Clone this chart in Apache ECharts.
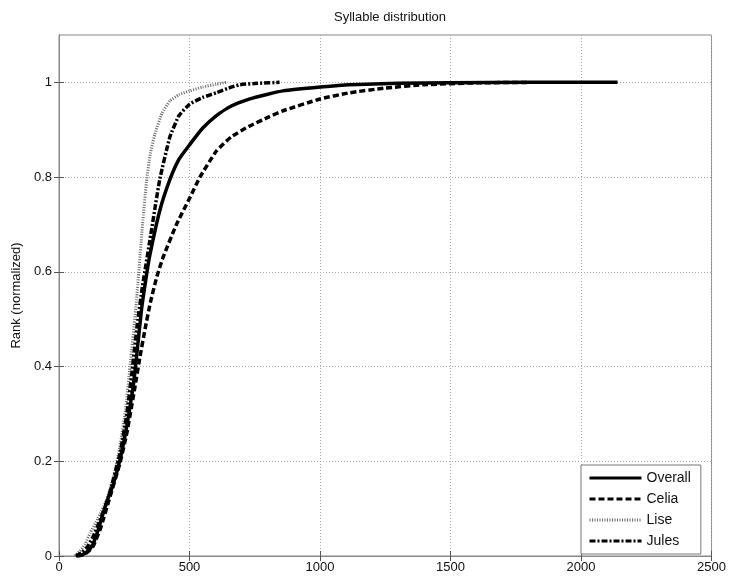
<!DOCTYPE html>
<html><head><meta charset="utf-8">
<script src="https://cdn.jsdelivr.net/npm/echarts@6/dist/echarts.min.js"></script>
<style>html,body{margin:0;padding:0;background:#fff}#c{width:729px;height:577px}</style>
</head><body><div id="c"></div>
<script>
const titleText = 'Syllable distribution';
const yAxisName = 'Rank (normalized)';
const seriesNames = ['Overall', 'Celia', 'Lise', 'Jules'];
const xTicks = [0, 500, 1000, 1500, 2000, 2500];
const yTicks = [0, 0.2, 0.4, 0.6, 0.8, 1];

const overall = [[65,0],[90,0.003],[110,0.01],[130,0.025],[150,0.055],[169,0.09],[190,0.125],[207,0.15],[233,0.202],[259,0.272],[284,0.357],[297,0.42],[316,0.52],[333,0.585],[348,0.635],[386,0.729],[425,0.795],[460,0.838],[500,0.868],[550,0.903],[603,0.93],[660,0.95],[731,0.965],[800,0.975],[858,0.982],[1001,0.99],[1113,0.995],[1300,0.998],[1500,0.999],[1800,1],[2140,1]];
const celia = [[70,0],[100,0.004],[130,0.02],[160,0.06],[190,0.115],[233,0.195],[260,0.26],[291,0.357],[310,0.42],[330,0.48],[350,0.535],[375,0.59],[399,0.631],[450,0.7],[500,0.755],[540,0.8],[603,0.855],[660,0.885],[731,0.908],[800,0.926],[858,0.94],[1001,0.965],[1113,0.978],[1250,0.988],[1400,0.995],[1600,0.999],[1800,1]];
const lise = [[60,0],[80,0.01],[100,0.025],[119,0.048],[150,0.08],[182,0.118],[210,0.17],[233,0.23],[255,0.31],[272,0.4],[297,0.54],[320,0.7],[335,0.79],[350,0.85],[367,0.89],[395,0.935],[425,0.961],[460,0.974],[501,0.982],[550,0.99],[603,0.996],[640,1]];
const jules = [[65,0],[90,0.008],[110,0.02],[130,0.04],[160,0.08],[190,0.125],[233,0.215],[260,0.3],[280,0.39],[300,0.49],[320,0.57],[348,0.666],[386,0.795],[425,0.885],[460,0.93],[501,0.954],[550,0.968],[603,0.978],[650,0.988],[692,0.995],[760,0.998],[845,1]];

const FONT = 'Liberation Sans';
const chart = echarts.init(document.getElementById('c'), null, {renderer: 'canvas'});
const lbl = {color: '#111', fontFamily: FONT, fontSize: 13};
const tick = {show: true, inside: true, length: 5, lineStyle: {color: '#555'}};
const mk = (name, data, color, width, type, z) => ({
  name, type: 'line', data, symbol: 'none', z, smooth: 0.15,
  lineStyle: {color, width, type}, itemStyle: {color}
});
chart.setOption({
  backgroundColor: '#fff',
  animation: false,
  title: {text: titleText, left: 385, textAlign: 'center', top: 6,
    textStyle: {fontFamily: FONT, fontSize: 13, fontWeight: 'normal', color: '#111'}},
  grid: {left: 59, right: 17, top: 35, bottom: 21, show: true, borderColor: '#888', borderWidth: 1, backgroundColor: '#fff'},
  legend: {
    orient: 'vertical', left: 581, top: 465,
    backgroundColor: '#fff', borderColor: '#777', borderWidth: 1,
    padding: [6, 10, 6, 7], itemGap: 7, itemWidth: 52, itemHeight: 14,
    itemStyle: {opacity: 0},
    lineStyle: {width: 3},
    textStyle: {fontFamily: FONT, fontSize: 14, color: '#111'},
    data: seriesNames
  },
  xAxis: [{
    type: 'value', min: xTicks[0], max: xTicks[xTicks.length - 1], interval: 500,
    axisLine: {show: true, lineStyle: {color: '#888'}},
    axisTick: tick,
    axisLabel: Object.assign({margin: 5, formatter: v => String(v)}, lbl),
    splitLine: {show: true, lineStyle: {color: '#aaa', type: [1, 2], width: 1}}
  }, {
    type: 'value', position: 'top', min: 0, max: 2500, interval: 500,
    axisLine: {show: true, lineStyle: {color: '#888'}},
    axisTick: tick, axisLabel: {show: false}, splitLine: {show: false}
  }],
  yAxis: [{
    type: 'value', min: 0, max: 1.1, interval: 0.2,
    name: yAxisName, nameLocation: 'middle', nameGap: 34, nameRotate: 90,
    nameTextStyle: {fontFamily: FONT, fontSize: 13, color: '#111'},
    axisLine: {show: true, lineStyle: {color: '#888'}},
    axisTick: {show: true, inside: true, length: 5, lineStyle: {color: '#555'}, customValues: yTicks},
    axisLabel: Object.assign({margin: 7, customValues: yTicks, formatter: v => String(+v.toFixed(1))}, lbl),
    splitLine: {show: true, lineStyle: {color: '#aaa', type: [1, 2], width: 1}}
  }, {
    type: 'value', position: 'right', min: 0, max: 1.1, interval: 0.2,
    axisLine: {show: true, lineStyle: {color: '#888'}},
    axisTick: {show: true, inside: true, length: 5, lineStyle: {color: '#555'}, customValues: yTicks},
    axisLabel: {show: false}, splitLine: {show: false}
  }],
  series: [
    mk(seriesNames[0], overall, '#000', 3.5, 'solid', 4),
    mk(seriesNames[1], celia, '#000', 3.5, [6, 3], 3),
    mk(seriesNames[2], lise, '#666', 3, [1, 1.5], 2),
    mk(seriesNames[3], jules, '#000', 3.5, [6, 2, 2, 2], 3)
  ]
});
</script></body></html>
